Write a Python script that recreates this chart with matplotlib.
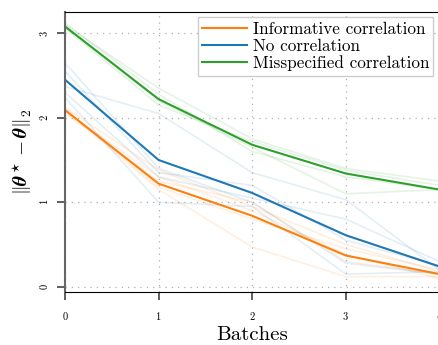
import matplotlib
matplotlib.use("Agg")
import matplotlib.pyplot as plt

plt.rcParams['font.family'] = ['cmr10', 'DejaVu Serif']
plt.rcParams['mathtext.fontset'] = 'cm'
plt.rcParams['axes.formatter.use_mathtext'] = True

batches = [0, 1, 2, 3, 4]

# mean curves
informative = [2.09, 1.22, 0.84, 0.37, 0.15]
no_corr = [2.45, 1.50, 1.11, 0.61, 0.24]
misspecified = [3.08, 2.22, 1.68, 1.34, 1.15]

# individual runs (faint)
informative_runs = [
    [2.12, 1.38, 0.95, 0.50, 0.18],
    [2.08, 1.30, 0.90, 0.38, 0.10],
    [2.10, 1.15, 0.47, 0.12, 0.12],
    [2.05, 1.25, 1.00, 0.30, 0.15],
    [2.11, 1.18, 0.80, 0.45, 0.20],
]
no_corr_runs = [
    [2.65, 1.40, 1.00, 0.28, 0.15],
    [2.37, 2.05, 1.35, 1.03, 0.20],
    [2.30, 1.30, 1.05, 0.80, 0.30],
    [2.24, 1.00, 0.95, 0.15, 0.18],
    [2.55, 1.35, 1.20, 0.55, 0.25],
]
misspecified_runs = [
    [3.10, 2.35, 1.75, 1.40, 1.25],
    [3.08, 2.20, 1.65, 1.10, 1.15],
    [3.06, 2.15, 1.72, 1.38, 1.20],
    [3.12, 2.28, 1.60, 1.30, 1.15],
]

labels = ['Informative correlation', 'No correlation', 'Misspecified correlation']
colors = ['#ff7f0e', '#1f77b4', '#2ca02c']

fig = plt.figure(figsize=(4.39, 3.45), dpi=100)
ax = fig.add_axes([0.148, 0.154, 0.853, 0.811])

for runs, c in zip([informative_runs, no_corr_runs, misspecified_runs], colors):
    for r in runs:
        ax.plot(batches, r, color=c, alpha=0.12, lw=1.2)

for y, c, lab in zip([informative, no_corr, misspecified], colors, labels):
    ax.plot(batches, y, color=c, lw=1.5, label=lab)

ax.set_xlim(0, 4)
ax.set_ylim(-0.06, 3.25)
ax.set_xticks(batches)
ax.set_yticks([0, 1, 2, 3])
ax.grid(True, linestyle=(0, (1, 4)), color='#b0b0b0', lw=0.9)

ax.spines['right'].set_visible(False)
ax.spines['left'].set_color('#666666')
ax.spines['left'].set_linewidth(1.5)
ax.tick_params(axis='y', length=6, width=1.2, color='#444444', labelsize=7.5,
               labelrotation=90, pad=5)
ax.tick_params(axis='x', length=6, width=1.2, color='#444444', labelsize=7.5, pad=7)
for t in ax.get_yticklabels():
    t.set_va('center')

ax.set_xlabel('Batches', fontsize=15, labelpad=3)
ax.set_ylabel(r'$\|\boldsymbol{\theta}^\star - \boldsymbol{\theta}\|_2$', fontsize=14, labelpad=3)

leg = ax.legend(loc='upper right', fontsize=12.3, fancybox=False, framealpha=1,
                edgecolor='#cccccc', handlelength=2.6, handletextpad=0.35,
                borderpad=0.25, labelspacing=0.1, borderaxespad=0,
                bbox_to_anchor=(0.984, 0.982))

fig.savefig('out.png', dpi=100)
